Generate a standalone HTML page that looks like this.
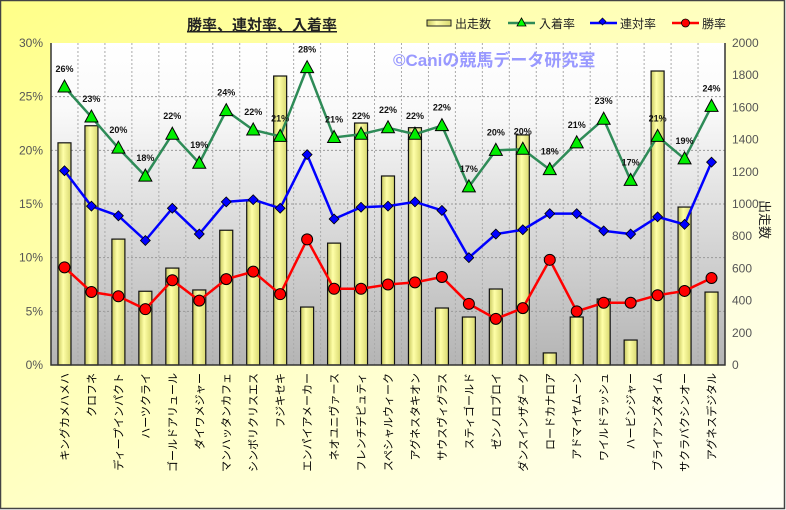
<!DOCTYPE html>
<html><head><meta charset="utf-8">
<style>
html,body{margin:0;padding:0;width:786px;height:510px;overflow:hidden;background:#fff}
svg{display:block;font-family:"Liberation Sans","Noto Sans CJK JP",sans-serif}
</style></head><body>
<svg id="chart" width="786" height="510" xmlns="http://www.w3.org/2000/svg">
<defs>
<linearGradient id="bgG" x1="0" y1="0" x2="1" y2="1"><stop offset="0" stop-color="#ffff88"/><stop offset="0.6" stop-color="#ffffd0"/><stop offset="1" stop-color="#fffff4"/></linearGradient>
<linearGradient id="plotG" x1="0" y1="0" x2="0" y2="1"><stop offset="0" stop-color="#ffffff"/><stop offset="0.2" stop-color="#fafafa"/><stop offset="1" stop-color="#b4b4b4"/></linearGradient>
<linearGradient id="barG" x1="0" y1="0" x2="1" y2="0"><stop offset="0" stop-color="#c8c860"/><stop offset="0.4" stop-color="#ffffa8"/><stop offset="1" stop-color="#d8d870"/></linearGradient>
</defs>
<rect x="0.5" y="0.5" width="784" height="508" fill="url(#bgG)" stroke="#444" stroke-width="1.5"/>
<text x="262" y="30" font-size="15" font-weight="bold" text-anchor="middle" text-decoration="underline" fill="#222">勝率、連対率、入着率</text>
<rect x="51" y="43" width="674" height="322" fill="url(#plotG)"/>
<g id="grid"></g>
<text x="393" y="66" font-size="17" font-weight="bold" fill="#9999ff">©Caniの競馬データ研究室</text>
<g id="bars"></g><g id="lines"></g><g id="axes"></g>
<g font-size="12" fill="#222">
<rect x="427" y="20" width="24" height="6" fill="url(#barG)" stroke="#222"/><text x="455" y="28">出走数</text>
<line x1="508" y1="23" x2="535" y2="23" stroke="#2e8b57" stroke-width="2.5"/><polygon points="521.5,18 526,26 517,26" fill="#0f0" stroke="#000" stroke-width="0.8"/><text x="539" y="28">入着率</text>
<line x1="590" y1="23" x2="617" y2="23" stroke="#0000ff" stroke-width="2.5"/><rect x="600" y="19" width="5" height="5" transform="rotate(45 602.5 21.5)" fill="#00f" stroke="#000" stroke-width="0.6"/><text x="620" y="28">連対率</text>
<line x1="672" y1="23" x2="699" y2="23" stroke="#ff0000" stroke-width="2.5"/><circle cx="685.5" cy="23" r="4" fill="#f00" stroke="#000" stroke-width="0.8"/><text x="702" y="28">勝率</text>
</g>
<text transform="translate(760,200) rotate(90)" font-size="13" fill="#222">出走数</text>
</svg>
<script>
const categories=["キングカメハメハ","クロフネ","ディープインパクト","ハーツクライ","ゴールドアリュール","ダイワメジャー","マンハッタンカフェ","シンボリクリスエス","フジキセキ","エンパイアメーカー","ネオユニヴァース","フレンチデピュティ","スペシャルウィーク","アグネスタキオン","サウスヴィグラス","スティゴールド","ゼンノロブロイ","ダンスインザダーク","ロードカナロア","アドマイヤムーン","ワイルドラッシュ","ハービンジャー","ブライアンズタイム","サクラバクシンオー","アグネスデジタル"];
const starts=[1380,1486,782,458,602,466,837,1019,1795,360,757,1503,1174,1474,354,298,472,1429,75,298,410,155,1826,981,453];
const placeRate=[25.9,23.1,20.2,17.6,21.5,18.8,23.7,21.9,21.3,27.7,21.2,21.5,22.1,21.5,22.3,16.6,20.0,20.1,18.2,20.7,22.9,17.2,21.3,19.2,24.1];
const top2Rate=[18.1,14.8,13.9,11.6,14.6,12.2,15.2,15.4,14.6,19.6,13.6,14.7,14.8,15.2,14.4,10.0,12.2,12.6,14.1,14.1,12.5,12.2,13.8,13.1,18.9];
const winRate=[9.1,6.8,6.4,5.2,7.9,6.0,8.0,8.7,6.6,11.7,7.1,7.1,7.5,7.7,8.2,5.7,4.3,5.3,9.8,5.0,5.8,5.8,6.5,6.9,8.1];
const leftTicks=[0,5,10,15,20,25,30];
const rightTicks=[0,200,400,600,800,1000,1200,1400,1600,1800,2000];

const X0=51,X1=725,Y0=365,Y1=43,NS="http://www.w3.org/2000/svg";
const bw=(X1-X0)/categories.length;
const xc=i=>X0+bw*(i+0.5);
const yL=v=>Y0-(v/30)*(Y0-Y1);
const yR=v=>Y0-(v/2000)*(Y0-Y1);
function mk(t,a,p){const e=document.createElementNS(NS,t);for(const k in a)e.setAttribute(k,a[k]);p.appendChild(e);return e;}
const grid=document.getElementById('grid'),bars=document.getElementById('bars'),lines=document.getElementById('lines'),axes=document.getElementById('axes');
leftTicks.forEach(t=>{if(t>0&&t<30){const l=mk('line',{x1:X0,x2:X1,y1:yL(t),y2:yL(t),stroke:'#999','stroke-dasharray':'2,2'},grid);

}});
for(let i=1;i<categories.length;i++){const l=mk('line',{x1:X0+bw*i,x2:X0+bw*i,y1:Y1,y2:Y0,stroke:'#aaa','stroke-dasharray':'2,2'},grid);

}
starts.forEach((v,i)=>{const r=mk('rect',{x:xc(i)-6.5,y:yR(v),width:13,height:Y0-yR(v),fill:'url(#barG)',stroke:'#111','stroke-width':1.2},bars);

});
function series(vals,color,name){const pts=vals.map((v,i)=>xc(i)+','+yL(v)).join(' ');
const p=mk('polyline',{points:pts,fill:'none',stroke:color,'stroke-width':2.5},lines);

}
series(placeRate,'#2e8b57','place-rate');
series(top2Rate,'#0000ff','top2-rate');
series(winRate,'#ff0000','win-rate');
placeRate.forEach((v,i)=>{const x=xc(i),y=yL(v);
const m=mk('polygon',{points:`${x},${y-7} ${x+6.5},${y+5} ${x-6.5},${y+5}`,fill:'#00ee00',stroke:'#000','stroke-width':1},lines);


const t=mk('text',{x:x,y:y-15,'font-size':9,'font-weight':'bold','text-anchor':'middle',fill:'#111'},lines);t.textContent=Math.round(v)+'%';

});
top2Rate.forEach((v,i)=>{const x=xc(i),y=yL(v);
const m=mk('rect',{x:x-3.5,y:y-3.5,width:7,height:7,transform:`rotate(45 ${x} ${y})`,fill:'#0000ff',stroke:'#000','stroke-width':0.8},lines);

});
winRate.forEach((v,i)=>{const m=mk('circle',{cx:xc(i),cy:yL(v),r:5.5,fill:'#ff0000',stroke:'#000','stroke-width':1},lines);

});
const ax=mk('path',{d:`M${X0},${Y1}V${Y0}H${X1}V${Y1}`,fill:'none',stroke:'#333','stroke-width':1.5},axes);


leftTicks.forEach(t=>{const e=mk('text',{x:X0-8,y:yL(t)+4,'font-size':12,'text-anchor':'end',fill:'#555'},axes);e.textContent=t+'%';

});
rightTicks.forEach(t=>{const e=mk('text',{x:X1+7,y:yR(t)+4,'font-size':12,fill:'#555'},axes);e.textContent=t;

});
categories.forEach((c,i)=>{const x=xc(i)+4,y=373;
const e=mk('text',{transform:`translate(${x},${y}) rotate(-90)`,'font-size':11,'text-anchor':'end',fill:'#000'},axes);e.textContent=c;

});
</script>
</body></html>
